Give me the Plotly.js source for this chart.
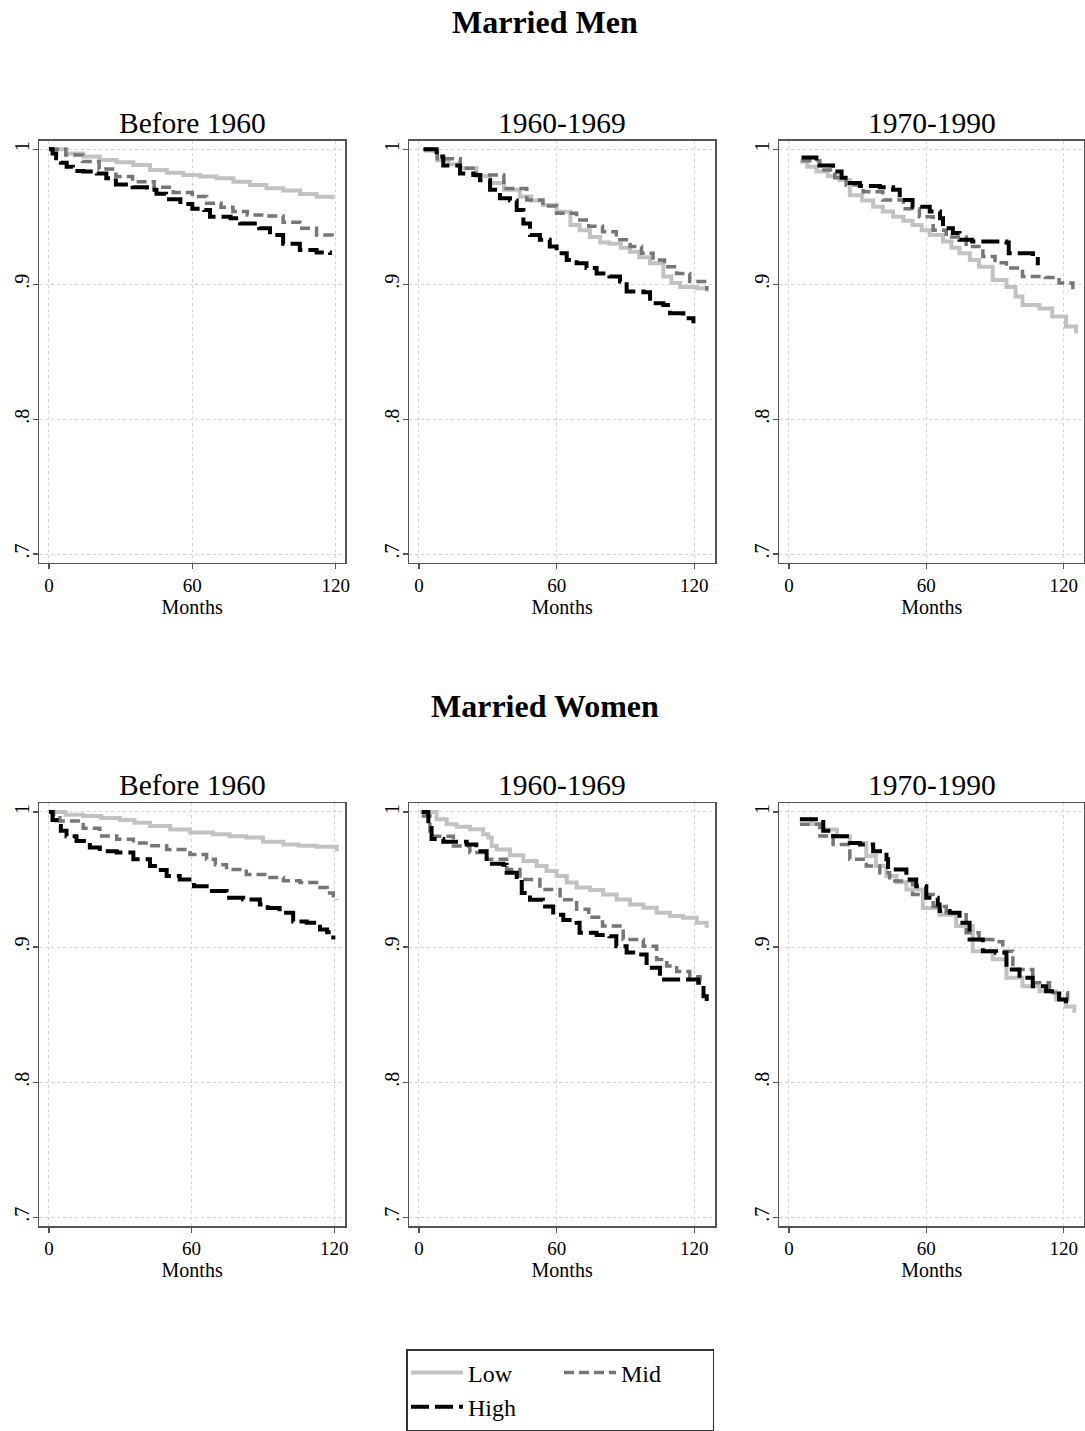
<!DOCTYPE html>
<html>
<head>
<meta charset="utf-8">
<script src="https://cdn.plot.ly/plotly-3.0.1.min.js"></script>
<style>html,body{margin:0;padding:0;background:#fff;}#chart{width:1085px;height:1431px;}</style>
</head>
<body>
<div id="chart"></div>
<script>
// ---------- Data (Kaplan-Meier style survival) ----------
const seriesNames = ["Low", "Mid", "High"];
const panelTitles = ["Before 1960", "1960-1969", "1970-1990"];
const groupTitles = ["Married Men", "Married Women"];
const xTickVals = [0, 60, 120];
const xTickText = ["0", "60", "120"];
const yTickVals = [0.7, 0.8, 0.9, 1.0];
const yTickText = [".7", ".8", ".9", "1"];

// Married Men, Before 1960
const menB60LowX  = [0, 7.4, 14.4, 21.3, 28.3, 35.3, 42.3, 49.3, 56.2, 63.2, 70.2, 77.2, 84.1, 91, 98.1, 105.1, 112, 118.6];
const menB60LowY  = [1.0, 0.997, 0.9946, 0.9921, 0.9904, 0.9884, 0.9847, 0.9827, 0.981, 0.9798, 0.9785, 0.976, 0.9736, 0.9711, 0.9694, 0.9669, 0.9649, 0.963];
const menB60MidX  = [0, 7, 14, 21, 28, 35, 44, 52, 60, 66, 72, 77, 83, 91, 98, 105, 112, 118.5];
const menB60MidY  = [1.0, 0.9958, 0.991, 0.9854, 0.9798, 0.976, 0.9719, 0.968, 0.965, 0.960, 0.957, 0.954, 0.9514, 0.9506, 0.946, 0.9415, 0.9365, 0.9333];
const menB60HighX = [0, 1.5, 3, 5, 7.4, 10, 14.4, 20, 24, 28, 35, 41, 45, 49, 55, 60, 65, 67.4, 76, 80, 88, 92.5, 98, 105, 112, 117.6];
const menB60HighY = [1.0, 0.997, 0.9933, 0.990, 0.987, 0.984, 0.9835, 0.982, 0.9785, 0.974, 0.9719, 0.970, 0.967, 0.963, 0.9595, 0.956, 0.955, 0.950, 0.949, 0.945, 0.9415, 0.9365, 0.930, 0.9254, 0.9235, 0.9217];

// Married Men, 1960-1969
const men60sLowX  = [2, 8, 13, 18, 25, 31, 37, 44, 49, 54, 60, 66, 70, 74.5, 79, 83, 88, 92, 96, 100.7, 106.5, 110, 113.8, 121, 125.4];
const men60sLowY  = [0.999, 0.992, 0.989, 0.986, 0.980, 0.975, 0.970, 0.965, 0.962, 0.9588, 0.9538, 0.944, 0.940, 0.935, 0.931, 0.930, 0.927, 0.924, 0.920, 0.9156, 0.9057, 0.901, 0.898, 0.897, 0.8946];
const men60sMidX  = [2, 8, 18, 25, 37, 47, 54, 60, 68.7, 74, 80, 86, 92, 97, 102, 107, 112.3, 118, 125.4];
const men60sMidY  = [1.0, 0.993, 0.986, 0.981, 0.971, 0.9625, 0.958, 0.9526, 0.9477, 0.943, 0.939, 0.933, 0.928, 0.923, 0.918, 0.913, 0.908, 0.902, 0.8953];
const men60sHighX = [2, 7.7, 10.6, 16.4, 17.9, 23.7, 26.6, 31, 35.3, 39.7, 42.6, 45.5, 48.4, 52.7, 57, 60, 64.4, 68.7, 73, 77.4, 83, 87.6, 90.5, 97.8, 100.7, 106.5, 109.4, 115.2, 119.6];
const men60sHighY = [1.0, 0.9946, 0.988, 0.988, 0.982, 0.981, 0.977, 0.970, 0.9637, 0.962, 0.955, 0.945, 0.9365, 0.933, 0.928, 0.923, 0.918, 0.9156, 0.912, 0.908, 0.9057, 0.902, 0.8946, 0.894, 0.886, 0.8847, 0.8785, 0.8748, 0.871];

// Married Men, 1970-1990
const men70sLowX  = [4.8, 8, 12, 17, 22.2, 26.6, 32, 36.8, 41, 45.5, 50, 54, 58, 61.5, 67.3, 71, 74.5, 79, 83, 89, 95, 99, 102, 109.4, 115, 121, 125.4];
const men70sLowY  = [0.9909, 0.987, 0.9835, 0.980, 0.9773, 0.966, 0.962, 0.9575, 0.954, 0.950, 0.947, 0.944, 0.940, 0.9365, 0.9316, 0.927, 0.923, 0.918, 0.913, 0.9032, 0.898, 0.891, 0.8847, 0.882, 0.876, 0.8686, 0.8637];
const men70sMidX  = [5.5, 13.5, 20, 25, 32.4, 41, 50, 57, 63, 68.7, 77.4, 84.7, 90, 95, 102, 112, 118, 124];
const men70sMidY  = [0.9916, 0.9847, 0.979, 0.9736, 0.9686, 0.9625, 0.956, 0.950, 0.940, 0.935, 0.928, 0.9205, 0.916, 0.912, 0.9057, 0.905, 0.901, 0.8953];
const men70sHighX = [5.5, 12, 19.3, 23, 26.6, 31, 39.7, 45.5, 48.4, 54, 61.5, 66, 67.3, 71.6, 74.5, 80, 95, 96, 106.5, 108.7];
const men70sHighY = [0.994, 0.988, 0.9835, 0.979, 0.975, 0.9728, 0.9719, 0.970, 0.9625, 0.9575, 0.954, 0.949, 0.9415, 0.938, 0.933, 0.9316, 0.931, 0.923, 0.9225, 0.914];

// Married Women, Before 1960
const womB60LowX  = [0, 7, 14.4, 22, 29.9, 36, 42.5, 51, 59.3, 69, 76, 83, 90, 98.6, 105, 112.6, 121];
const womB60LowY  = [1.0, 0.998, 0.997, 0.9955, 0.994, 0.992, 0.9896, 0.987, 0.9847, 0.9835, 0.982, 0.981, 0.978, 0.976, 0.975, 0.9743, 0.971];
const womB60MidX  = [0, 2, 4.6, 14.4, 21.4, 28.5, 35.5, 42.5, 49.5, 59.3, 66.3, 70, 74.7, 83, 91.5, 98.6, 105.6, 114, 117, 119.6, 121];
const womB60MidY  = [1.0, 0.997, 0.9933, 0.988, 0.9822, 0.9798, 0.977, 0.975, 0.9723, 0.9686, 0.965, 0.961, 0.9575, 0.9538, 0.9514, 0.949, 0.9477, 0.944, 0.940, 0.9365, 0.935];
const womB60HighX = [0, 1.5, 3.2, 5, 7.4, 11.6, 17.2, 21.4, 28.5, 35.5, 42.5, 46, 49.5, 55, 61, 66.3, 74.7, 81.7, 88.7, 92, 97, 102.7, 108.4, 114, 117, 119.6];
const womB60HighY = [1.0, 0.994, 0.9896, 0.986, 0.982, 0.9785, 0.9736, 0.971, 0.970, 0.965, 0.960, 0.957, 0.9526, 0.950, 0.945, 0.9415, 0.9365, 0.9353, 0.9316, 0.929, 0.9254, 0.919, 0.918, 0.913, 0.911, 0.9057];

// Married Women, 1960-1969
const wom60sLowX  = [0.4, 7.7, 12.1, 16.4, 22.2, 28, 30.2, 31.7, 33.9, 39.7, 45.5, 51.3, 55.6, 60, 64.4, 68.7, 74.5, 80.3, 86.2, 92, 97.8, 103.6, 109.4, 115.2, 121, 125.4];
const wom60sLowY  = [1.0, 0.9946, 0.9909, 0.9891, 0.9872, 0.9835, 0.981, 0.9748, 0.9723, 0.9679, 0.9637, 0.960, 0.9563, 0.9526, 0.9477, 0.944, 0.9422, 0.939, 0.9353, 0.9316, 0.9291, 0.9254, 0.923, 0.9217, 0.918, 0.9143];
const wom60sMidX  = [1.2, 4.8, 15, 22.2, 29.5, 38.2, 44, 52.7, 61.5, 68.7, 74, 80, 89, 97.8, 103.6, 108, 112.3, 118, 122.5];
const wom60sMidY  = [0.997, 0.982, 0.9748, 0.970, 0.965, 0.9575, 0.950, 0.9427, 0.935, 0.928, 0.922, 0.9156, 0.9057, 0.9007, 0.8909, 0.886, 0.882, 0.878, 0.8748];
const wom60sHighX = [1.2, 4.1, 5.5, 10.6, 20.8, 25, 29.5, 36.8, 38.2, 42.6, 44.8, 48.4, 54, 58.5, 62.9, 68.7, 70, 77.4, 83, 86, 90.5, 95, 99.2, 105, 115, 121.7, 124, 125.4];
const wom60sHighY = [1.0, 0.9896, 0.980, 0.978, 0.976, 0.971, 0.9617, 0.961, 0.955, 0.950, 0.940, 0.935, 0.930, 0.924, 0.920, 0.918, 0.9106, 0.909, 0.908, 0.9007, 0.896, 0.8946, 0.8847, 0.876, 0.876, 0.8736, 0.8637, 0.8575];

// Married Women, 1970-1990
const wom70sLowX  = [4.8, 10, 15, 21, 26.6, 33.8, 38, 42.6, 47, 51.3, 58.5, 65.8, 73, 80.3, 89, 95, 102, 109.4, 116.7, 121, 124.6];
const wom70sLowY  = [0.9946, 0.991, 0.987, 0.982, 0.977, 0.9674, 0.960, 0.9526, 0.948, 0.9427, 0.929, 0.924, 0.9156, 0.897, 0.891, 0.8773, 0.871, 0.8674, 0.8612, 0.856, 0.8514];
const wom70sMidX  = [4.8, 13.5, 19.3, 26.6, 33.8, 39.7, 44, 54, 63, 68.7, 77.4, 83, 89, 93.4, 97.8, 106.5, 113.8, 121.7];
const wom70sMidY  = [0.9909, 0.9822, 0.976, 0.965, 0.960, 0.955, 0.9489, 0.939, 0.930, 0.9254, 0.9106, 0.9057, 0.904, 0.897, 0.8835, 0.8736, 0.8662, 0.8588];
const wom70sHighX = [4.8, 9.2, 15, 19.3, 26.6, 31, 36.8, 42.6, 43.3, 51.3, 55.6, 60, 65, 65.8, 70.2, 74.5, 78.9, 84.7, 90.5, 95, 100.7, 106.5, 112.3, 118, 121];
const wom70sHighY = [0.9946, 0.9946, 0.986, 0.982, 0.977, 0.976, 0.971, 0.965, 0.9575, 0.950, 0.945, 0.9365, 0.9316, 0.9267, 0.9254, 0.918, 0.9057, 0.897, 0.8958, 0.8835, 0.8773, 0.8711, 0.8674, 0.8612, 0.855];

// ---------- Build ----------
const panels = [
  [[menB60LowX, menB60LowY], [menB60MidX, menB60MidY], [menB60HighX, menB60HighY]],
  [[men60sLowX, men60sLowY], [men60sMidX, men60sMidY], [men60sHighX, men60sHighY]],
  [[men70sLowX, men70sLowY], [men70sMidX, men70sMidY], [men70sHighX, men70sHighY]],
  [[womB60LowX, womB60LowY], [womB60MidX, womB60MidY], [womB60HighX, womB60HighY]],
  [[wom60sLowX, wom60sLowY], [wom60sMidX, wom60sMidY], [wom60sHighX, wom60sHighY]],
  [[wom70sLowX, wom70sLowY], [wom70sMidX, wom70sMidY], [wom70sHighX, wom70sHighY]]
];

const W = 1085, H = 1431;
const colPx = [[39.3, 345], [409.3, 715], [779.3, 1084.3]];
const rowPx = [[140.7, 562.7], [803.3, 1226]];
const xRanges = [[-4.05, 123.9], [-4.2, 129], [-4.2, 129], [-4.05, 124.5], [-4.2, 129], [-4.2, 129]];
const yRange = [0.6936, 1.0064];

const styles = [
  {color: "#c2c2c2", width: 4, dash: "solid", group: "a"},
  {color: "#767676", width: 3.5, dash: "10px,5px", group: "b"},
  {color: "#000000", width: 4, dash: "18px,6px", group: "a"}
];

const FONT = "'Liberation Serif', 'Times New Roman', Times, serif";
const traces = [];
const layout = {
  width: W, height: H,
  margin: {l: 0, r: 0, t: 0, b: 0},
  paper_bgcolor: "#ffffff", plot_bgcolor: "#ffffff",
  font: {family: FONT, color: "#000", size: 19},
  showlegend: true,
  legend: {
    orientation: "h", traceorder: "grouped",
    x: 406 / W, xanchor: "left", y: 0, yanchor: "bottom",
    bordercolor: "#333", borderwidth: 1.5, bgcolor: "#fff",
    font: {family: FONT, size: 24, color: "#000"},
    itemwidth: 52, entrywidth: 86, tracegroupgap: 0
  },
  annotations: [], shapes: []
};

panels.forEach((panel, p) => {
  const r = Math.floor(p / 3), c = p % 3;
  const idx = p === 0 ? "" : String(p + 1);
  const xa = "xaxis" + idx, ya = "yaxis" + idx;
  layout[xa] = {
    domain: [colPx[c][0] / W, colPx[c][1] / W],
    anchor: "y" + idx, range: xRanges[p],
    tickmode: "array", tickvals: xTickVals, ticktext: xTickText,
    ticks: "outside", ticklen: 5, tickcolor: "#555", tickwidth: 1.2,
    showline: true, mirror: true, linecolor: "#555", linewidth: 1.5,
    showgrid: true, gridcolor: "#d4d4d4", griddash: "dot", gridwidth: 1,
    zeroline: false, ticklabelstandoff: 0, automargin: false,
    tickfont: {size: 19, family: FONT, color: "#000"},
    title: {text: "Months", font: {size: 20, family: FONT, color: "#000"}, standoff: 0}
  };
  layout[ya] = {
    domain: [1 - rowPx[r][1] / H, 1 - rowPx[r][0] / H],
    anchor: "x" + idx, range: yRange,
    tickmode: "array", tickvals: yTickVals, ticktext: yTickText, tickangle: -90,
    ticks: "outside", ticklen: 5, tickcolor: "#555", tickwidth: 1.2,
    showline: true, mirror: true, linecolor: "#555", linewidth: 1.5,
    showgrid: true, gridcolor: "#d4d4d4", griddash: "dot", gridwidth: 1,
    zeroline: false, ticklabelstandoff: -4, automargin: false,
    tickfont: {size: 20, family: FONT, color: "#000"}
  };
  panel.forEach((s, k) => {
    traces.push({
      type: "scatter", mode: "lines",
      x: s[0], y: s[1],
      xaxis: "x" + idx, yaxis: "y" + idx,
      name: seriesNames[k], legendgroup: styles[k].group,
      showlegend: p === 0,
      line: {shape: "hv", color: styles[k].color, width: styles[k].width, dash: styles[k].dash},
      hoverinfo: "skip"
    });
  });
  layout.annotations.push({
    text: panelTitles[c], xref: "paper", yref: "paper",
    x: (colPx[c][0] + colPx[c][1]) / 2 / W, y: 1 - rowPx[r][0] / H,
    xanchor: "center", yanchor: "bottom", yshift: 0, showarrow: false,
    font: {size: 29.5, family: FONT, color: "#000"}
  });
});

layout.annotations.push({
  text: "<b>" + groupTitles[0] + "</b>", xref: "paper", yref: "paper",
  x: 0.5025, y: 1 - 22 / H, xanchor: "center", yanchor: "middle", showarrow: false,
  font: {size: 32, family: FONT, color: "#000"}
});
layout.annotations.push({
  text: "<b>" + groupTitles[1] + "</b>", xref: "paper", yref: "paper",
  x: 0.5025, y: 1 - 706 / H, xanchor: "center", yanchor: "middle", showarrow: false,
  font: {size: 32, family: FONT, color: "#000"}
});

Plotly.newPlot("chart", traces, layout, {staticPlot: true, displayModeBar: false});
</script>
</body>
</html>
